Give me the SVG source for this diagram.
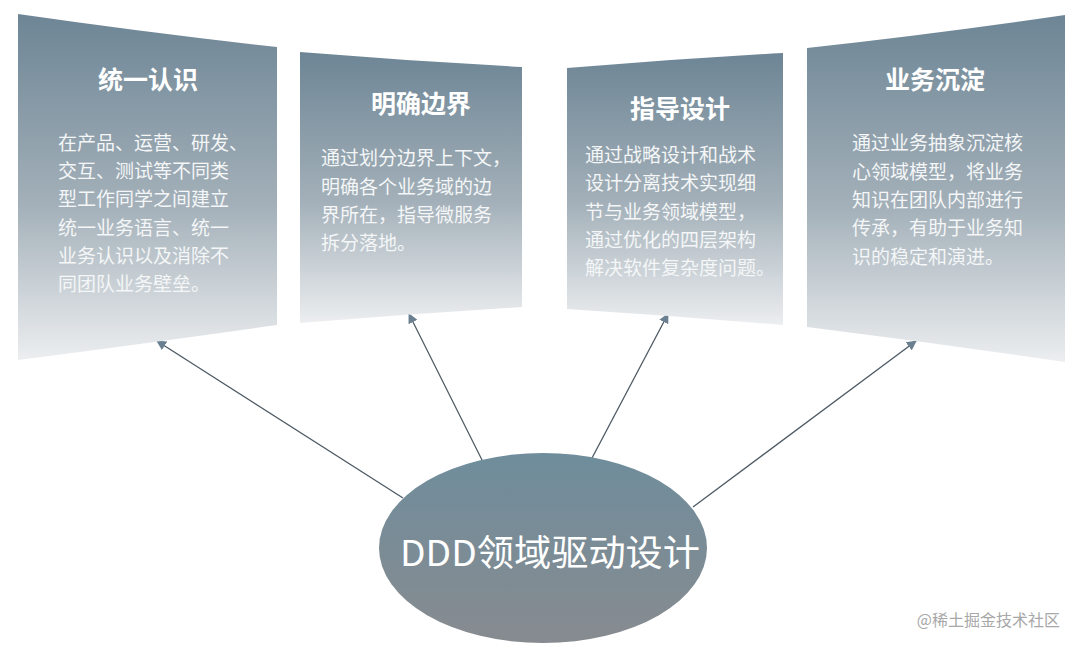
<svg xmlns="http://www.w3.org/2000/svg" width="1080" height="648" viewBox="0 0 1080 648">
<defs>
<linearGradient id="pg" x1="0" y1="0" x2="0" y2="1">
<stop offset="0" stop-color="#6d8595"/>
<stop offset="0.55" stop-color="#a3b0b9"/>
<stop offset="1" stop-color="#eceef0"/>
</linearGradient>
<linearGradient id="eg" x1="0" y1="0" x2="0" y2="1">
<stop offset="0" stop-color="#6f8d9c"/>
<stop offset="1" stop-color="#878b90"/>
</linearGradient>
<marker id="ah" viewBox="0 0 10 10" refX="9" refY="5" markerWidth="10" markerHeight="10" markerUnits="userSpaceOnUse" orient="auto">
<path d="M0,0 L10,5 L0,10 Z" fill="#6a8090"/>
</marker>
<style>
.t{font-family:"Noto Sans CJK SC","Noto Sans",sans-serif;fill:#ffffff;font-size:25px;font-weight:600;text-anchor:middle}
.b{font-family:"Noto Sans CJK SC","Noto Sans",sans-serif;fill:#f4f6f7;font-size:19px}
.c{stroke:#4e5a64;stroke-width:1.3;fill:none;marker-end:url(#ah)}
</style>
</defs>
<rect width="1080" height="648" fill="#ffffff"/>
<g id="connectors">
<line class="c" x1="403" y1="498" x2="157" y2="341"/>
<line class="c" x1="483" y1="462" x2="409" y2="314"/>
<line class="c" x1="592" y1="458" x2="668" y2="314"/>
<line class="c" x1="693" y1="507" x2="916" y2="341"/>
</g>
<g id="panel1">
<path d="M18,14 Q150,33 277,47 L277,325 Q150,343 18,360 Z" fill="url(#pg)"/>
<text class="t" x="148" y="89">统一认识</text>
<text class="b" x="58" y="150">在产品、运营、研发、</text>
<text class="b" x="58" y="178">交互、测试等不同类</text>
<text class="b" x="58" y="206">型工作同学之间建立</text>
<text class="b" x="58" y="235">统一业务语言、统一</text>
<text class="b" x="58" y="263">业务认识以及消除不</text>
<text class="b" x="58" y="291">同团队业务壁垒。</text>
</g>
<g id="panel2">
<path d="M300,52 Q410,61 522,67 L522,307 Q410,314 300,323 Z" fill="url(#pg)"/>
<text class="t" x="421" y="113">明确边界</text>
<text class="b" x="321" y="165">通过划分边界上下文，</text>
<text class="b" x="321" y="194">明确各个业务域的边</text>
<text class="b" x="321" y="222">界所在，指导微服务</text>
<text class="b" x="321" y="250">拆分落地。</text>
</g>
<g id="panel3">
<path d="M567,68 Q675,59 783,53 L783,325 Q675,316 567,309 Z" fill="url(#pg)"/>
<text class="t" x="680" y="118">指导设计</text>
<text class="b" x="585" y="162">通过战略设计和战术</text>
<text class="b" x="585" y="190">设计分离技术实现细</text>
<text class="b" x="585" y="219">节与业务领域模型，</text>
<text class="b" x="585" y="247">通过优化的四层架构</text>
<text class="b" x="585" y="275">解决软件复杂度问题。</text>
</g>
<g id="panel4">
<path d="M807,48 Q935,34 1065,15 L1065,362 Q935,343 807,327 Z" fill="url(#pg)"/>
<text class="t" x="935" y="89">业务沉淀</text>
<text class="b" x="852" y="150">通过业务抽象沉淀核</text>
<text class="b" x="852" y="179">心领域模型，将业务</text>
<text class="b" x="852" y="207">知识在团队内部进行</text>
<text class="b" x="852" y="235">传承，有助于业务知</text>
<text class="b" x="852" y="264">识的稳定和演进。</text>
</g>
<g id="center">
<ellipse cx="543" cy="548" rx="164" ry="95" fill="url(#eg)"/>
<text x="550" y="566" font-family="Noto Sans CJK SC, Noto Sans, sans-serif" font-size="36" fill="#ffffff" text-anchor="middle" textLength="300" lengthAdjust="spacingAndGlyphs">DDD领域驱动设计</text>
</g>
<text x="1060" y="626" font-family="Noto Sans CJK SC, Noto Sans, sans-serif" font-size="16" fill="#a8a8a8" text-anchor="end">@稀土掘金技术社区</text>
</svg>
